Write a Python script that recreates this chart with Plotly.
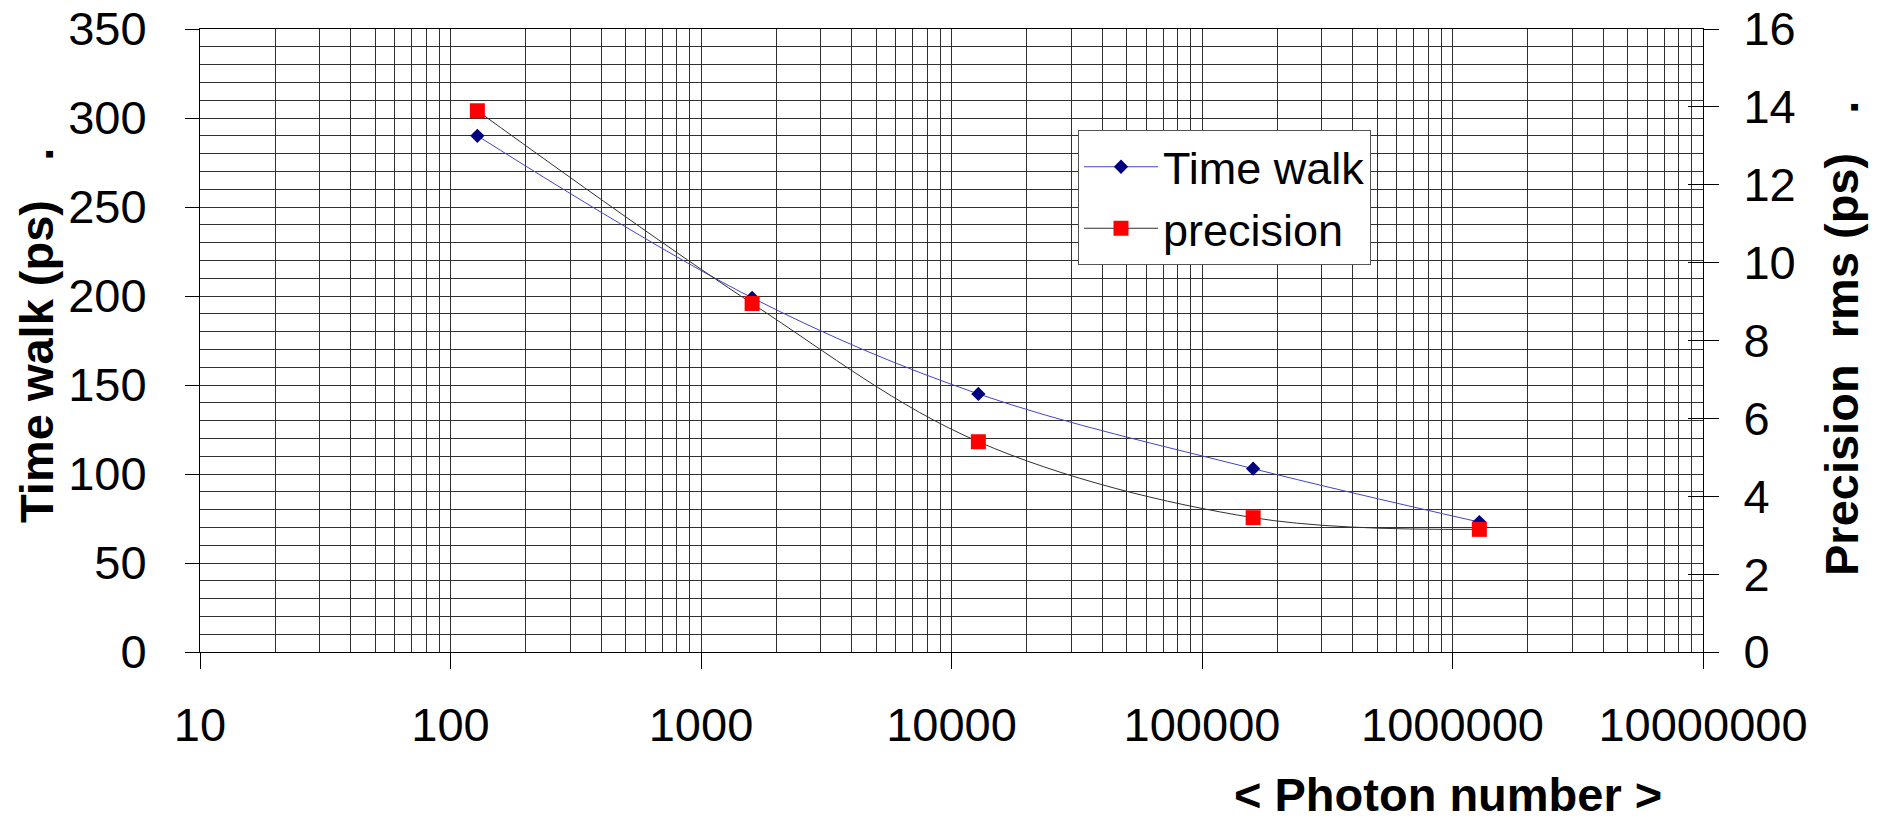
import plotly.graph_objects as go

# ---- data ----
photon_number = [128, 1600, 12800, 160000, 1280000]
time_walk_ps = [290, 199, 145, 103, 73]
precision_rms_ps = [13.9, 8.95, 5.4, 3.45, 3.15]

x_tickvals = [10, 100, 1000, 10000, 100000, 1000000, 10000000]
x_ticktext = ["10", "100", "1000", "10000", "100000", "1000000", "10000000"]
y_left_ticks = [0, 50, 100, 150, 200, 250, 300, 350]
y_right_ticks = [0, 2, 4, 6, 8, 10, 12, 14, 16]

# page body margin is removed by a post script, so figure = window
W, H = 1881, 822
# plot box in screenshot pixels: x 200..1703, y 29..652
L, T = 200, 29
R = W - 1703
B = H - 652
pw, ph = W - L - R, H - T - B

def px_x(p):  # screenshot x -> paper
    return (p - L) / pw

def px_y(p):  # screenshot y -> paper
    return (H - B - p) / ph

GRID = "#303030"
FONT = "Liberation Sans, Arial, sans-serif"
TICK_SIZE = 47

minor_x = [m * 10 ** d for d in range(1, 7) for m in range(2, 10)]

fig = go.Figure()
fig.add_trace(go.Scatter(
    x=photon_number, y=time_walk_ps, name="Time walk",
    mode="lines+markers", line=dict(color="#4444c4", width=1, shape="spline", smoothing=1),
    marker=dict(symbol="diamond", size=11, color="#000080"),
    legendgroup="a", yaxis="y"))
fig.add_trace(go.Scatter(
    x=photon_number, y=precision_rms_ps, name="precision",
    mode="lines+markers", line=dict(color="#303030", width=1, shape="spline", smoothing=1),
    marker=dict(symbol="square", size=15, color="#ff0000"),
    legendgroup="b", yaxis="y2"))

fig.update_layout(
    width=W, height=H,
    margin=dict(l=L, r=R, t=T, b=B, autoexpand=False),
    paper_bgcolor="white", plot_bgcolor="white",
    font=dict(family=FONT, size=TICK_SIZE, color="black"),
    xaxis=dict(
        type="log", range=[1, 7],
        tickmode="array", tickvals=x_tickvals, ticktext=x_ticktext,
        ticks="outside", ticklen=16, tickcolor="black", tickwidth=1,
        ticklabelstandoff=16, ticklabeloverflow="allow",
        showgrid=True, gridcolor=GRID, gridwidth=1,
        minor=dict(tickmode="array", tickvals=minor_x, showgrid=True,
                   gridcolor=GRID, gridwidth=1, ticks=""),
        showline=True, linecolor="black", linewidth=1, mirror=True,
        zeroline=False,
        tickfont=dict(size=TICK_SIZE),
    ),
    yaxis=dict(
        range=[0, 350], tickmode="array", tickvals=y_left_ticks,
        ticks="outside", ticklen=14, tickcolor="black", tickwidth=1,
        ticklabelstandoff=29, ticklabeloverflow="allow",
        showgrid=True, gridcolor=GRID, gridwidth=1,
        minor=dict(dtick=10, showgrid=True, gridcolor=GRID, gridwidth=1, ticks=""),
        showline=True, linecolor="black", linewidth=1,
        zeroline=False,
        tickfont=dict(size=TICK_SIZE),
    ),
    yaxis2=dict(
        range=[0, 16], tickmode="array", tickvals=y_right_ticks,
        overlaying="y", side="right",
        ticks="outside", ticklen=15, tickcolor="black", tickwidth=1,
        ticklabelstandoff=15, ticklabeloverflow="allow",
        showgrid=False, showline=True, linecolor="black", linewidth=1,
        zeroline=False,
        tickfont=dict(size=TICK_SIZE),
    ),
    yaxis3=dict(
        range=[0, 16], tickmode="array", tickvals=y_right_ticks,
        overlaying="y", side="right",
        ticks="inside", ticklen=15, tickcolor="black", tickwidth=1,
        showticklabels=False, showgrid=False, showline=False, zeroline=False,
    ),
    legend=dict(
        x=px_x(1078), y=px_y(130), xanchor="left", yanchor="top",
        bgcolor="white", bordercolor="#555555", borderwidth=1,
        font=dict(size=45, family=FONT), tracegroupgap=0,
        itemwidth=74,
    ),
    showlegend=True,
    annotations=[
        dict(text="<b>Time walk (ps)\u00a0\u00a0 .</b>", textangle=-90,
             x=px_x(36), y=px_y(336), xref="paper", yref="paper",
             xanchor="center", yanchor="middle", showarrow=False,
             font=dict(size=47, family=FONT)),
        dict(text="<b>Precision\u00a0\u00a0rms (ps)\u00a0\u00a0 .</b>", textangle=-90,
             x=px_x(1841), y=px_y(339), xref="paper", yref="paper",
             xanchor="center", yanchor="middle", showarrow=False,
             font=dict(size=47, family=FONT)),
        dict(text="<b>< Photon number ></b>",
             x=px_x(1448), y=px_y(794), xref="paper", yref="paper",
             xanchor="center", yanchor="middle", showarrow=False,
             font=dict(size=47, family=FONT)),
    ],
)

# an invisible trace so the inside-tick overlay axis is drawn
fig.add_trace(go.Scatter(x=[photon_number[0]], y=[precision_rms_ps[0]], yaxis="y3",
                         mode="markers", marker=dict(opacity=0), showlegend=False,
                         hoverinfo="skip"))

fig.write_html(
    "out.html",
    config={"displayModeBar": False},
    post_script="document.body.style.margin='0';document.body.style.overflow='hidden';",
)
